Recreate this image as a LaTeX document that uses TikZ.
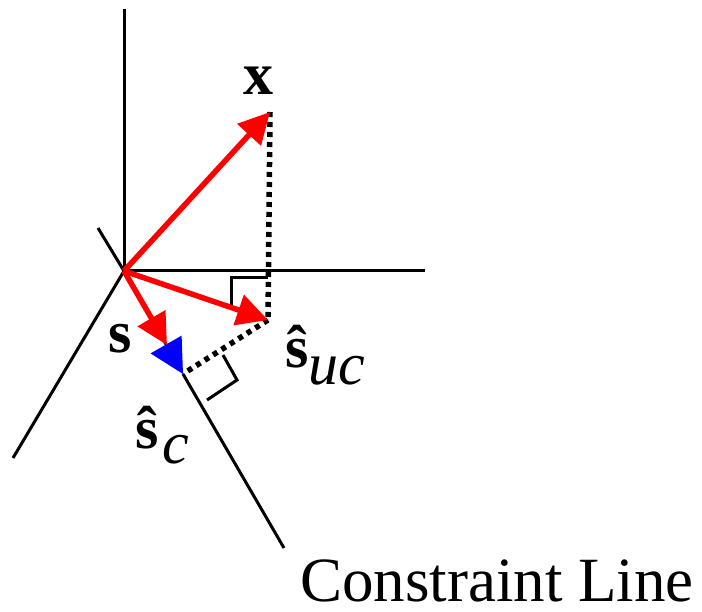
\documentclass[tikz,border=0pt]{standalone}
\usepackage{fontspec}
\setmainfont{Liberation Serif}
\usetikzlibrary{arrows.meta}
\begin{document}
\begin{tikzpicture}[x=1pt,y=-1pt,
  axis/.style={line width=3pt,black},
  redarr/.style={line width=5.5pt,red,-{Triangle[length=31pt,width=31pt]}},
  bluearr/.style={line width=3pt,blue,-{Triangle[length=34pt,width=35pt]}},
  dotline/.style={line width=5.5pt,black,dash pattern=on 5pt off 5pt},
  rightang/.style={line width=3pt,black},
  lbl/.style={inner sep=0pt,anchor=base west,font=\fontsize{60}{72}\selectfont}]
\useasboundingbox (0,0) rectangle (702,612);
% coordinates
\coordinate (O) at (124,271);
\coordinate (Ytop) at (124,9);
\coordinate (Xend) at (425,271);
\coordinate (Zend) at (13,458);
\coordinate (Ctop) at (98,228);
\coordinate (Cbot) at (284,548);
\coordinate (X) at (270,112);
\coordinate (Suc) at (268,320);
\coordinate (Sc) at (183,374);
\coordinate (S) at (167,345);
% axes
\draw[axis] (O) -- (Ytop);
\draw[axis] (O) -- (Xend);
\draw[axis] (O) -- (Zend);
\draw[axis] (Ctop) -- (O);
\draw[axis] (Sc) -- (Cbot);
% dotted projections
\draw[dotline] (X) -- (Suc);
\draw[dotline] (Suc) -- (Sc);
% right-angle marks
\coordinate (RA1) at (231,307);
\coordinate (RA2) at (231,278);
\coordinate (RA3) at (268,278);
\draw[rightang] (RA1) -- (RA2) -- (RA3);
\coordinate (RB1) at (223,355);
\coordinate (RB2) at (237,380);
\coordinate (RB3) at (207,400);
\draw[rightang] (RB1) -- (RB2) -- (RB3);
% vectors
\draw[bluearr] (O) -- (Sc);
\draw[redarr] (O) -- (X);
\draw[redarr] (O) -- (Suc);
\draw[redarr] (O) -- (S);
% labels
\node[lbl,anchor=base] (lx) at (258,95) {\bfseries x};
\node[lbl] (ls) at (108,353) {\bfseries s};
\node[lbl] (lsuc) at (285,368) {\bfseries ŝ\raisebox{-17pt}{\mdseries\itshape uc}};
\node[lbl] (lsc) at (135,448) {\bfseries ŝ\kern4pt\raisebox{-16pt}{\mdseries\itshape c}};
\node[inner sep=0pt,anchor=base west,font=\fontsize{63}{75}\selectfont] (lcl) at (300,601) {Constraint Line};
\end{tikzpicture}
\end{document}
